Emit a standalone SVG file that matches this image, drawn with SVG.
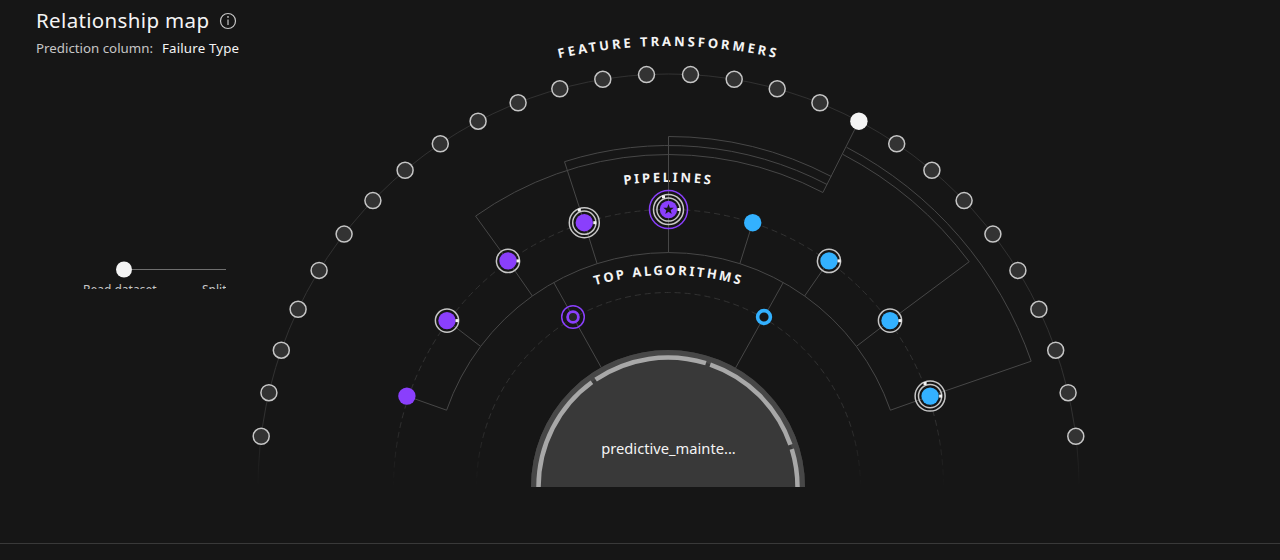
<svg xmlns="http://www.w3.org/2000/svg" width="1280" height="560" viewBox="0 0 1280 560">
<defs>
<style>
.ring{fill:none;stroke:url(#fade);stroke-width:1}
.dash{stroke-dasharray:6 4}
.conn{fill:none;stroke:#474747;stroke-width:1}
.fn{fill:#333333;stroke:#c6c6c6;stroke-width:1.5}
.pr{fill:none;stroke:#c6c6c6;stroke-width:1.5}
.pu{fill:#8a3ffc}
.bl{fill:#33b1ff}
.notch{fill:#f4f4f4}
.lbl{font-family:"Noto Sans","Liberation Sans",sans-serif;font-weight:700;font-size:13px;fill:#f4f4f4}
.ui{font-family:"Noto Sans","Liberation Sans",sans-serif}
</style>
<linearGradient id="fade" gradientUnits="userSpaceOnUse" x1="0" y1="420" x2="0" y2="486">
<stop offset="0" stop-color="#313131"/>
<stop offset="1" stop-color="#313131" stop-opacity="0"/>
</linearGradient>
<clipPath id="sliderclip"><rect x="0" y="0" width="226" height="289"/></clipPath>
<path id="pFeat" d="M 174.5 540 A 494 494 0 0 1 1162.5 540"/>
<path id="pPipe" d="M 310.5 540 A 358 358 0 0 1 1026.5 540"/>
<path id="pAlgo" d="M 403.5 540 A 265 265 0 0 1 933.5 540"/>
</defs>
<rect width="1280" height="560" fill="#161616"/>
<line x1="0" y1="543.5" x2="1280" y2="543.5" stroke="#393939" stroke-width="1"/>

<g id="header">
<text class="ui" x="36" y="28" font-size="20.5" fill="#f4f4f4" textLength="173">Relationship map</text>
<circle cx="228" cy="21" r="7.5" fill="none" stroke="#c6c6c6" stroke-width="1.2"/>
<rect x="227.4" y="19.5" width="1.2" height="5.5" fill="#c6c6c6"/>
<circle cx="228" cy="16.9" r="0.9" fill="#c6c6c6"/>
<text class="ui" x="36" y="53" font-size="13.3" fill="#c6c6c6">Prediction column:</text>
<text class="ui" x="162" y="53" font-size="13.3" fill="#f4f4f4" textLength="77">Failure Type</text>
</g>

<g id="slider">
<line x1="132" y1="269.5" x2="226" y2="269.5" stroke="#6f6f6f" stroke-width="1.2"/>
<circle cx="124" cy="269.5" r="8" fill="#f4f4f4"/>
<g clip-path="url(#sliderclip)">
<text class="ui" x="83" y="294" font-size="12" fill="#c6c6c6">Read dataset</text>
<text class="ui" x="202" y="294" font-size="12" fill="#c6c6c6">Split</text>
</g>
</g>

<g id="rings">
<path class="ring" d="M 258 487.5 A 410.5 413.5 0 0 1 1079 487.5"/>
<path class="ring dash" d="M 393.5 487.5 A 275 278 0 0 1 943.5 487.5"/>
<path class="ring dash" d="M 476.5 487.5 A 192 195 0 0 1 860.5 487.5"/>
</g>

<g id="labels">
<text class="lbl" letter-spacing="2.9"><textPath href="#pFeat" startOffset="50%" text-anchor="middle">FEATURE TRANSFORMERS</textPath></text>
<text class="lbl" letter-spacing="2.6"><textPath href="#pPipe" startOffset="50%" text-anchor="middle">PIPELINES</textPath></text>
<text class="lbl" letter-spacing="2.4"><textPath href="#pAlgo" startOffset="50%" text-anchor="middle">TOP ALGORITHMS</textPath></text>
</g>

<g id="connectors">
<path class="conn" d="M 858.9 121.2 L 822.9 192.5 A 333 333 0 0 0 475.6 216.1 L 508 260.9"/>
<path class="conn" d="M 827.1 184.5 A 342 342 0 0 0 564.5 161.7 L 584.3 222.7"/>
<path class="conn" d="M 831.3 176.5 A 351 351 0 0 0 668.5 136.5 L 668.5 209.5"/>
<path class="conn" d="M 842.9 154.4 A 376 376 0 0 1 969.2 261.7 L 890 320.6"/>
<path class="conn" d="M 846.6 147.3 A 384 384 0 0 1 1031.2 361.2 L 930.1 396.1"/>
<path class="conn" d="M 446.6 410.2 A 235 235 0 0 1 890.4 410.2"/>
<path class="conn" d="M 406.9 396.1 L 446.6 410.2 M 447 320.6 L 480.6 346.4 M 508 260.9 L 532.4 296 M 584.3 222.7 L 597.1 263.6 M 668.5 209.5 L 668.5 252.5 M 752.7 222.7 L 739.9 263.6 M 829 260.9 L 804.6 296 M 890 320.6 L 856.4 346.4 M 930.1 396.1 L 890.4 410.2"/>
<path class="conn" d="M 553.7 282.4 L 601.5 368 M 783.3 282.4 L 735.5 368"/>
</g>

<g id="feature-nodes">
<g id="ft-0"><circle class="fn" cx="261.2" cy="436.3" r="8"/></g>
<g id="ft-1"><circle class="fn" cx="268.9" cy="392.7" r="8"/></g>
<g id="ft-2"><circle class="fn" cx="281.3" cy="350.2" r="8"/></g>
<g id="ft-3"><circle class="fn" cx="298.1" cy="309.3" r="8"/></g>
<g id="ft-4"><circle class="fn" cx="319.1" cy="270.4" r="8"/></g>
<g id="ft-5"><circle class="fn" cx="344.1" cy="234.1" r="8"/></g>
<g id="ft-6"><circle class="fn" cx="372.9" cy="200.6" r="8"/></g>
<g id="ft-7"><circle class="fn" cx="405.1" cy="170.3" r="8"/></g>
<g id="ft-8"><circle class="fn" cx="440.3" cy="143.8" r="8"/></g>
<g id="ft-9"><circle class="fn" cx="478.1" cy="121.2" r="8"/></g>
<g id="ft-10"><circle class="fn" cx="518.1" cy="102.8" r="8"/></g>
<g id="ft-11"><circle class="fn" cx="559.8" cy="88.8" r="8"/></g>
<g id="ft-12"><circle class="fn" cx="602.8" cy="79.3" r="8"/></g>
<g id="ft-13"><circle class="fn" cx="646.5" cy="74.6" r="8"/></g>
<g id="ft-14"><circle class="fn" cx="690.5" cy="74.6" r="8"/></g>
<g id="ft-15"><circle class="fn" cx="734.2" cy="79.3" r="8"/></g>
<g id="ft-16"><circle class="fn" cx="777.2" cy="88.8" r="8"/></g>
<g id="ft-17"><circle class="fn" cx="819.9" cy="102.8" r="8"/></g>
<g id="ft-18"><circle cx="858.9" cy="121.2" r="8.7" fill="#f4f4f4"/></g>
<g id="ft-19"><circle class="fn" cx="896.7" cy="143.8" r="8"/></g>
<g id="ft-20"><circle class="fn" cx="931.9" cy="170.3" r="8"/></g>
<g id="ft-21"><circle class="fn" cx="964.1" cy="200.6" r="8"/></g>
<g id="ft-22"><circle class="fn" cx="992.9" cy="234.1" r="8"/></g>
<g id="ft-23"><circle class="fn" cx="1017.9" cy="270.4" r="8"/></g>
<g id="ft-24"><circle class="fn" cx="1038.9" cy="309.3" r="8"/></g>
<g id="ft-25"><circle class="fn" cx="1055.7" cy="350.2" r="8"/></g>
<g id="ft-26"><circle class="fn" cx="1068.1" cy="392.7" r="8"/></g>
<g id="ft-27"><circle class="fn" cx="1075.8" cy="436.3" r="8"/></g>
</g>

<g id="pipeline-nodes">
<g id="pl-1"><circle class="pu" cx="406.9" cy="396.1" r="8.7"/></g>
<g id="pl-2"><circle class="pr" cx="447" cy="320.6" r="11.6"/><circle class="pu" cx="447" cy="320.6" r="8.7"/><rect class="notch" x="455.5" y="319.1" width="3" height="3"/></g>
<g id="pl-3"><circle class="pr" cx="508" cy="260.9" r="11.6"/><circle class="pu" cx="508" cy="260.9" r="8.7"/><rect class="notch" x="516.5" y="259.4" width="3" height="3"/></g>
<g id="pl-4"><circle class="pr" cx="584.3" cy="222.7" r="15"/><circle class="pr" cx="584.3" cy="222.7" r="11.6"/><circle class="pu" cx="584.3" cy="222.7" r="8.7"/><rect class="notch" x="593.3" y="221.2" width="3" height="3"/><rect class="notch" x="577.8" y="208.6" width="3" height="3"/></g>
<g id="pl-5"><circle cx="668.5" cy="209.5" r="19" fill="none" stroke="#8a3ffc" stroke-width="1.5"/><circle class="pr" cx="668.5" cy="209.5" r="15"/><circle class="pr" cx="668.5" cy="209.5" r="11.6"/><circle class="pu" cx="668.5" cy="209.5" r="8.7"/><polygon transform="translate(668.5 209.5)" fill="#161616" points="0,-5.5 1.35,-1.86 5.23,-1.7 2.19,0.71 3.23,4.45 0,2.3 -3.23,4.45 -2.19,0.71 -5.23,-1.7 -1.35,-1.86"/><rect class="notch" x="677.5" y="208" width="3" height="3"/><rect class="notch" x="662" y="195.4" width="3" height="3"/></g>
<g id="pl-6"><circle class="bl" cx="752.7" cy="222.7" r="8.7"/></g>
<g id="pl-7"><circle class="pr" cx="829" cy="260.9" r="11.6"/><circle class="bl" cx="829" cy="260.9" r="8.7"/><rect class="notch" x="837.5" y="259.4" width="3" height="3"/></g>
<g id="pl-8"><circle class="pr" cx="890" cy="320.6" r="11.6"/><circle class="bl" cx="890" cy="320.6" r="8.7"/><rect class="notch" x="898.5" y="319.1" width="3" height="3"/></g>
<g id="pl-9"><circle class="pr" cx="930.1" cy="396.1" r="15"/><circle class="pr" cx="930.1" cy="396.1" r="11.6"/><circle class="bl" cx="930.1" cy="396.1" r="8.7"/><rect class="notch" x="939.1" y="394.6" width="3" height="3"/><rect class="notch" x="923.6" y="382" width="3" height="3"/></g>
</g>

<g id="algorithm-nodes">
<g id="alg-1"><circle cx="573" cy="317" r="11.3" fill="none" stroke="#8a3ffc" stroke-width="1.5"/><circle cx="573" cy="317" r="5.4" fill="#262626" stroke="#8a3ffc" stroke-width="2.8"/></g>
<g id="alg-2"><circle cx="764" cy="317" r="6.4" fill="#161616" stroke="#33b1ff" stroke-width="3.6"/></g>
</g>

<g id="dataset-node">
<path d="M 531 487 A 137 137 0 0 1 805 487 Z" fill="#393939"/>
<path d="M 534.5 487 A 133.5 133.5 0 0 1 801.5 487" fill="none" stroke="#474747" stroke-width="7"/>
<path d="M 538.5 487 A 129.5 129.5 0 0 1 591.9 382.2 M 595.6 379.6 A 129.5 129.5 0 0 1 705.9 363.2 M 710.2 364.6 A 129.5 129.5 0 0 1 790.4 444.8 M 791.8 449.1 A 129.5 129.5 0 0 1 797.5 487" fill="none" stroke="#a8a8a8" stroke-width="4.5"/>
<text class="ui" x="668.5" y="454" font-size="14.7" fill="#f4f4f4" text-anchor="middle">predictive_mainte...</text>
</g>
</svg>
